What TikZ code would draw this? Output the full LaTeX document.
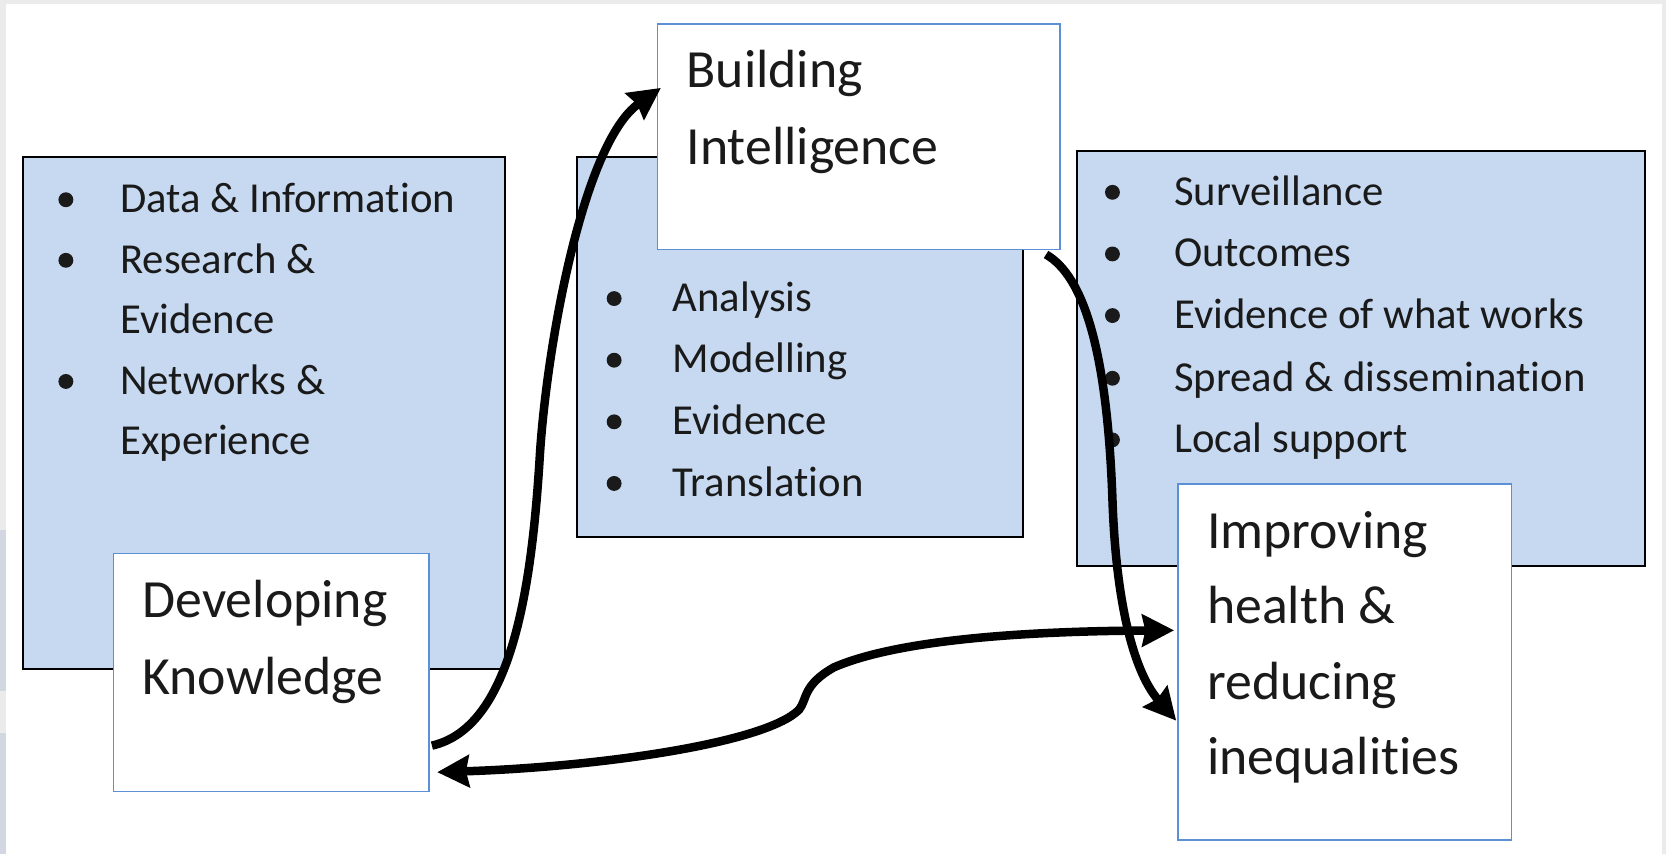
\documentclass[tikz,border=0pt]{standalone}
\usepackage{fontspec}
\setmainfont{Carlito}[Ligatures={NoCommon}]
\usetikzlibrary{arrows.meta}
\definecolor{boxblue}{HTML}{C6D9F1}
\definecolor{edgeblue}{HTML}{5B8FD6}
\definecolor{framegrey}{HTML}{EBEBEB}
\definecolor{blobgrey}{HTML}{D3D7E2}
\definecolor{txt}{HTML}{1A1A1A}
\begin{document}
\begin{tikzpicture}[x=1pt,y=-1pt,
  listbox/.style={draw=black, line width=2pt, fill=boxblue, anchor=north west, inner sep=0pt},
  titlebox/.style={draw=edgeblue, line width=1.5pt, fill=white, anchor=north west, inner sep=0pt},
  item/.style={anchor=base west, inner sep=0pt, font=\fontsize{40.2}{40}\selectfont, text=txt},
  title/.style={anchor=base west, inner sep=0pt, font=\fontsize{50.6}{50}\selectfont, text=txt},
  dot/.style={circle, fill=txt, inner sep=0pt, minimum size=14pt},
  tipshape/.tip={Stealth[length=30pt,width=30pt,inset=3pt]},
  flow/.style={line width=8pt, draw=black},
]
\useasboundingbox (0,0) rectangle (1568,804);
% frame
\fill[framegrey] (0,0) rectangle (1568,804);
\fill[white] (5.5,3.5) rectangle (1564,804);
\fill[blobgrey] (0,499) rectangle (5.5,650);
\fill[blobgrey] (0,690) rectangle (5.5,804);

% list boxes
\node[listbox, minimum width=453pt, minimum height=482pt] (b1) at (21,147) {};
\node[listbox, minimum width=420pt, minimum height=357pt] (b2) at (542,147) {};
\node[listbox, minimum width=534pt, minimum height=391pt] (b3) at (1013,141) {};

% list 1
\node[dot] (d11) at (62,188) {};
\node[dot] (d12) at (62,245) {};
\node[dot] (d14) at (62,359) {};
\node[item] (t11) at (113,200) {Data \& Information};
\node[item] (t12) at (113,257) {Research \&};
\node[item] (t13) at (113,314) {Evidence};
\node[item] (t14) at (113,371) {Networks \&};
\node[item] (t15) at (113,428) {Experience};

% list 2
\node[dot] (d21) at (578,281) {};
\node[dot] (d22) at (578,339) {};
\node[dot] (d23) at (578,397) {};
\node[dot] (d24) at (578,455) {};
\node[item] (t21) at (633,293) {Analysis};
\node[item] (t22) at (633,351) {Modelling};
\node[item] (t23) at (633,409) {Evidence};
\node[item] (t24) at (633,467) {Translation};

% list 3
\node[dot] (d31) at (1047,181) {};
\node[dot] (d32) at (1047,239) {};
\node[dot] (d33) at (1047,297) {};
\node[dot] (d34) at (1047,356) {};
\node[dot] (d35) at (1047,414) {};
\node[item] (t31) at (1105,193) {Surveillance};
\node[item] (t32) at (1105,251) {Outcomes};
\node[item] (t33) at (1105,309) {Evidence of what works};
\node[item] (t34) at (1105,368) {Spread \& dissemination};
\node[item] (t35) at (1105,426) {Local support};

% title boxes
\node[titlebox, minimum width=297pt, minimum height=224pt] (dk) at (106,520) {};
\node[titlebox, minimum width=379pt, minimum height=212pt] (bi) at (618,22) {};
\node[titlebox, minimum width=314pt, minimum height=335pt] (ih) at (1108,455) {};

\node[title] (bi1) at (646,82) {Building};
\node[title] (bi2) at (646,155) {Intelligence};
\node[title] (dk1) at (134,581) {Developing};
\node[title] (dk2) at (134,654) {Knowledge};
\node[title] (ih1) at (1136,516) {Improving};
\node[title] (ih2) at (1136,587) {health \&};
\node[title] (ih3) at (1136,658) {reducing};
\node[title] (ih4) at (1136,729) {inequalities};

% connectors
\coordinate (a1s) at ([xshift=2pt,yshift=-69pt]dk.east);
\coordinate (a1m) at (508,430);
\coordinate (a1e) at ([xshift=4pt,yshift=46pt]bi.west);
\draw[flow, -{tipshape}] (a1s) .. controls (480,685) and (500,560) .. (a1m)
   .. controls (514,330) and (548,135) .. (a1e);

\coordinate (a2s) at ([xshift=-14pt,yshift=-4pt]bi.south east);
\coordinate (a2m) at (1047,470);
\coordinate (a2e) at ([xshift=-1pt,yshift=-55pt]ih.west);
\draw[flow, -{tipshape}] (a2s) .. controls (1020,260) and (1042,330) .. (a2m)
   .. controls (1050,560) and (1065,630) .. (a2e);

\coordinate (a3l) at ([xshift=7pt,yshift=-94pt]dk.east);
\coordinate (a3m1) at (752,668);
\coordinate (a3m2) at (785,628);
\coordinate (a3r) at ([xshift=-3pt,yshift=30pt]ih.west);
\draw[flow, {tipshape}-{tipshape}] (a3l) .. controls (560,722) and (720,700) .. (a3m1)
   .. controls (760,658) and (755,645) .. (a3m2)
   .. controls (850,600) and (980,594) .. (a3r);
\end{tikzpicture}
\end{document}
